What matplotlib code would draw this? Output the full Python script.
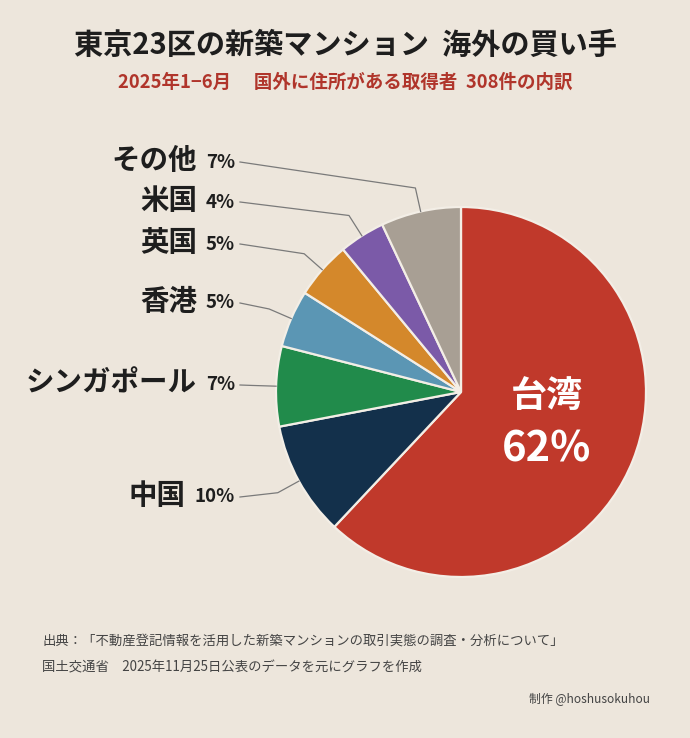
import numpy as np
import matplotlib
matplotlib.use("Agg")
import matplotlib.pyplot as plt

plt.rcParams['font.family'] = ['Noto Sans CJK JP', 'DejaVu Sans']

# data (share of 308 buyers, %)
countries = ['台湾', '中国', 'シンガポール', '香港', '英国', '米国', 'その他']
shares = [62, 10, 7, 5, 5, 4, 7]
colors = ['#c0392b', '#13304b', '#218b4b', '#5b96b4', '#d4882b', '#7b5aa8', '#a89f94']

title = '東京23区の新築マンション  海外の買い手'
subtitle = '2025年1−6月　 国外に住所がある取得者  308件の内訳'
source1 = '出典：「不動産登記情報を活用した新築マンションの取引実態の調査・分析について」'
source2 = '国土交通省　2025年11月25日公表のデータを元にグラフを作成'
credit = '制作 @hoshusokuhou'

bg = '#ede6dc'
W, H = 690, 738

fig = plt.figure(figsize=(W / 100, H / 100), dpi=100, facecolor=bg)
ax = fig.add_axes([0, 0, 1, 1])
ax.set_facecolor(bg)

cx, cy, R = 461, H - 392, 185
wedges, _ = ax.pie(shares, colors=colors, startangle=90, counterclock=False,
                   center=(cx, cy), radius=R,
                   wedgeprops=dict(edgecolor='#f3eee6', linewidth=1.6))
ax.set_xlim(0, W)
ax.set_ylim(0, H)
ax.axis('off')

# titles
fig.text(0.5, 1 - 45 / H, title, ha='center', va='center', fontsize=21,
         fontweight='bold', color='#1e1e1e')
fig.text(0.5, 1 - 82 / H, subtitle, ha='center', va='center', fontsize=13.3,
         fontweight='bold', color='#b0352b')

# big label inside Taiwan
ax.text(547, H - 396, countries[0], ha='center', va='center', fontsize=26,
        fontweight='bold', color='white')
ax.text(547, H - 450, f'{shares[0]}%', ha='center', va='center', fontsize=30,
        fontweight='bold', color='white')

# outside labels with leader lines
label_y = {'中国': 497, 'シンガポール': 385, '香港': 303, '英国': 244, '米国': 202, 'その他': 162}
fig.canvas.draw()
rend = fig.canvas.get_renderer()
x_end = 235
for w, name, s in zip(wedges[1:], countries[1:], shares[1:]):
    y = H - label_y[name]
    pt = ax.text(x_end, y, f'{s}%', ha='right', va='center', fontsize=13.5,
                 fontweight='bold', color='#1e1e1e')
    bb = pt.get_window_extent(rend)
    ax.text(bb.x0 - 9, y + 1, name, ha='right', va='center', fontsize=20.5,
            fontweight='bold', color='#1e1e1e')
    th = np.deg2rad((w.theta1 + w.theta2) / 2)
    ex, ey = cx + R * np.cos(th), cy + R * np.sin(th)
    kx, ky = cx + 1.13 * R * np.cos(th), cy + 1.13 * R * np.sin(th)
    ax.plot([x_end + 5, kx, ex], [y, ky, ey], color='#7a7a7a', lw=0.9,
            solid_joinstyle='round')

# source / credit
fig.text(42 / W, 1 - 641 / H, source1, ha='left', va='center', fontsize=9.6,
         color='#444444')
fig.text(42 / W, 1 - 667 / H, source2, ha='left', va='center', fontsize=9.6,
         color='#444444')
fig.text(650 / W, 1 - 700 / H, credit, ha='right', va='center', fontsize=8.6,
         color='#444444')

fig.savefig('out.png', dpi=100, facecolor=bg)
